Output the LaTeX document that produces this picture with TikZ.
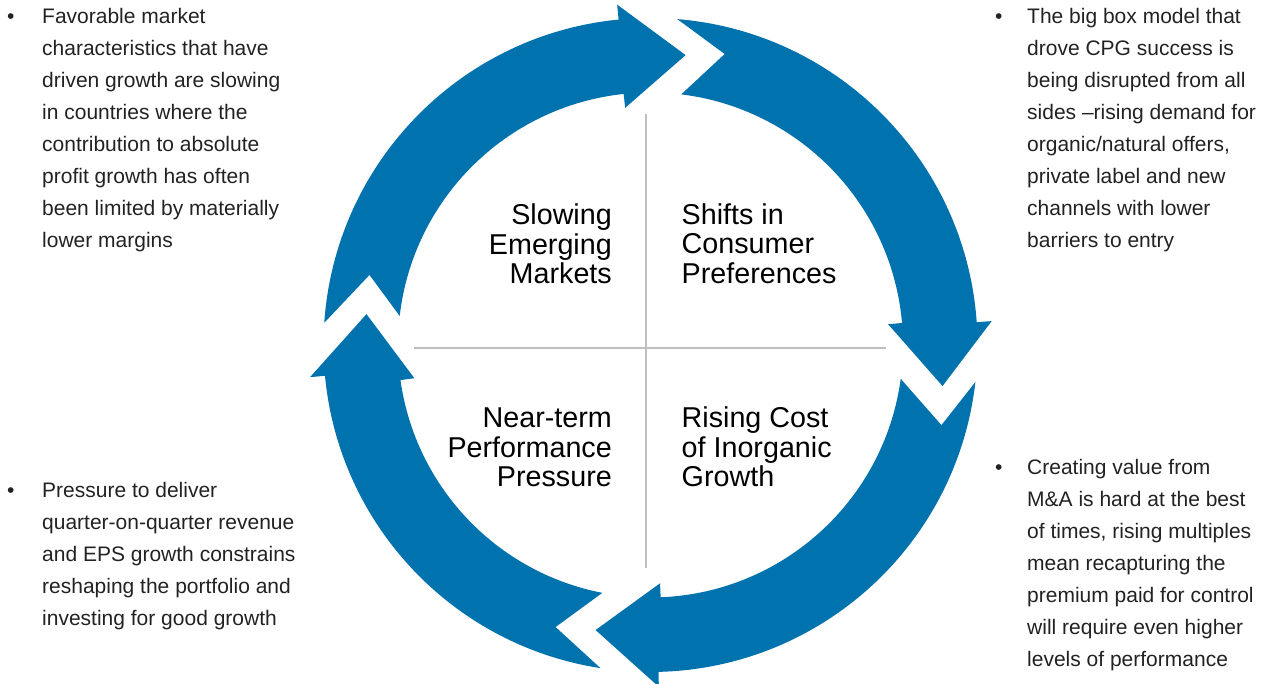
\documentclass[tikz,border=0pt]{standalone}
\usepackage{fontspec}
\setmainfont{Liberation Sans}
\definecolor{ringblue}{RGB}{0,114,174}
\definecolor{divgray}{RGB}{191,191,191}
\definecolor{txtgray}{RGB}{34,34,34}
% one curved block arrow of the ring: outer arc, head, inner arc, notched tail
% #1 tail angle (outer)  #2 head base angle (outer)  #3 tip angle  #4 tip radius
% #5 head base angle (inner)  #6 tail angle (inner)  #7 notch angle  #8 notch radius
\newcommand\ringarrow[8]{%
  \fill[ringblue] (#1:327) arc[start angle=#1, end angle=#2, radius=327]
    -- (#2:342) -- (#3:#4) -- (#5:238.5) -- (#5:252.5)
    arc[start angle=#5, end angle=#6, radius=252.5] -- (#7:#8) -- cycle;}
\begin{document}
\begin{tikzpicture}[x=1pt,y=1pt,
  divider/.style={draw=divgray, line width=2.4pt},
  bulletdot/.style={anchor=base west, inner sep=0pt, font=\fontsize{21}{32}\selectfont, text=txtgray},
  bullettext/.style={anchor=base west, inner sep=0pt, font=\fontsize{21}{32}\selectfont, text=txtgray},
  headleft/.style={anchor=base east, inner sep=0pt, font=\fontsize{28.7}{28.8}\selectfont, text=black},
  headright/.style={anchor=base west, inner sep=0pt, font=\fontsize{28.7}{28.8}\selectfont, text=black}]
\useasboundingbox (0,0) rectangle (1268,684);

% quadrant dividers
\coordinate (vtop) at (646,570);
\coordinate (vbot) at (646,116);
\coordinate (hleft) at (414,336);
\coordinate (hright) at (886,336);
\draw[divider] (vtop) -- (vbot);
\draw[divider] (hleft) -- (hright);

% the four arrows of the cycle
\begin{scope}[shift={(650.5,339)}]
  \ringarrow{176.1}{95.6}{83.1}{292}{96.1}{173.4}{166.0}{289.6}
  \ringarrow{85.3}{4.0}{-8.0}{294.9}{5.0}{83.0}{75.7}{300.3}
  \ringarrow{-6.5}{-88.6}{-100.9}{290.3}{-87.7}{-7.7}{-15.4}{301.8}
  \ringarrow{-98.8}{-174.6}{-186.2}{285.7}{-172}{-101}{-108.6}{297.6}
\end{scope}

% quadrant titles
\node[headleft] (tl) at (612,459) {\begin{tabular}[t]{@{}r@{}}Slowing\\Emerging\\Markets\end{tabular}};
\node[headright] (tr) at (681.5,459) {\begin{tabular}[t]{@{}l@{}}Shifts in\\Consumer\\Preferences\end{tabular}};
\node[headleft] (bl) at (612,256) {\begin{tabular}[t]{@{}r@{}}Near-term\\Performance\\Pressure\end{tabular}};
\node[headright] (br) at (681.5,256) {\begin{tabular}[t]{@{}l@{}}Rising Cost\\of Inorganic\\Growth\end{tabular}};

% side notes
\node[bulletdot] (d1) at (7,660) {•};
\node[bullettext] (n1) at (42,660) {\begin{tabular}[t]{@{}l@{}}Favorable market\\characteristics that have\\driven growth are slowing\\in countries where the\\contribution to absolute\\profit growth has often\\been limited by materially\\lower margins\end{tabular}};

\node[bulletdot] (d2) at (995,660) {•};
\node[bullettext] (n2) at (1027,660) {\begin{tabular}[t]{@{}l@{}}The big box model that\\drove CPG success is\\being disrupted from all\\sides –rising demand for\\organic/natural offers,\\private label and new\\channels with lower\\barriers to entry\end{tabular}};

\node[bulletdot] (d3) at (7,186) {•};
\node[bullettext] (n3) at (42,186) {\begin{tabular}[t]{@{}l@{}}Pressure to deliver\\quarter-on-quarter revenue\\and EPS growth constrains\\reshaping the portfolio and\\investing for good growth\end{tabular}};

\node[bulletdot] (d4) at (995,209) {•};
\node[bullettext] (n4) at (1027,209) {\begin{tabular}[t]{@{}l@{}}Creating value from\\M\&A is hard at the best\\of times, rising multiples\\mean recapturing the\\premium paid for control\\will require even higher\\levels of performance\end{tabular}};
\end{tikzpicture}
\end{document}
